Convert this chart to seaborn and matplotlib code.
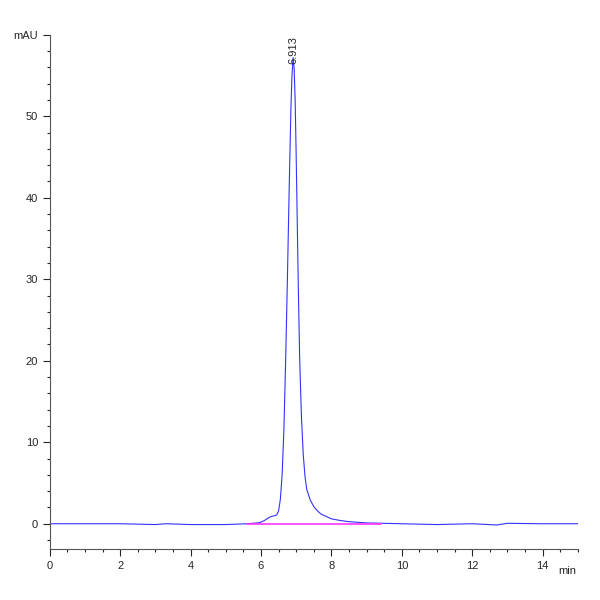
import matplotlib
matplotlib.use("Agg")
import matplotlib.pyplot as plt
import seaborn as sns
import pandas as pd
from matplotlib.ticker import MultipleLocator

time_min = [0, 1, 2, 3, 3.3, 4, 5, 5.6, 5.9, 6.0, 6.1, 6.2, 6.3, 6.4, 6.45, 6.5, 6.55,
            6.6, 6.65, 6.7, 6.75, 6.8, 6.85, 6.88, 6.913, 6.94, 6.97, 7.0, 7.03, 7.06,
            7.1, 7.15, 7.2, 7.25, 7.3, 7.4, 7.5, 7.6, 7.7, 7.85, 8.0, 8.25, 8.5, 9.0,
            10, 11, 12, 12.7, 13, 14, 15]
signal_mau = [0, 0, 0, -0.1, 0, -0.1, -0.1, 0, 0.1, 0.2, 0.4, 0.7, 0.9, 1.0, 1.1, 1.6, 3.0,
              6.0, 11.5, 20, 30, 41, 51, 55, 57.2, 56, 52, 45, 37, 29,
              20, 13, 8.5, 5.8, 4.2, 2.9, 2.1, 1.6, 1.2, 0.9, 0.6, 0.4, 0.25, 0.1,
              0, -0.1, 0, -0.15, 0.05, 0, 0]
baseline_t = [5.6, 9.4]
baseline_v = [0, 0]
peak_time = 6.913
peak_height = 57.2

sns.set_style("white")
plt.rcParams['font.family'] = ['Liberation Sans', 'DejaVu Sans']
fig = plt.figure(figsize=(6, 6), dpi=100)
ax = fig.add_axes([0.083, 0.085, 0.88, 0.857])
df = pd.DataFrame({"t": time_min, "v": signal_mau})
sns.lineplot(data=df, x="t", y="v", ax=ax, color="#3333ff", lw=0.8)
ax.plot(baseline_t, baseline_v, color="#ff33ff", lw=1.2)
ax.text(peak_time, peak_height - 0.8, f"{peak_time:.3f}", rotation=90, ha="center",
        va="bottom", fontsize=8)

ax.set_xlim(0, 15)
ax.set_ylim(-3.1, 60)
ax.xaxis.set_minor_locator(MultipleLocator(0.5))
ax.yaxis.set_minor_locator(MultipleLocator(2))
ax.set_xticks([0, 2, 4, 6, 8, 10, 12, 14])
ax.set_yticks([0, 10, 20, 30, 40, 50, 60])
ax.set_yticklabels(["0", "10", "20", "30", "40", "50", "mAU"])
ax.tick_params(which="major", length=5, width=0.8, labelsize=8, direction="out")
ax.tick_params(which="minor", length=2.5, width=0.8, direction="out")
ax.tick_params(left=True, bottom=True, which="both")
for s in ["top", "right"]:
    ax.spines[s].set_visible(False)
for s in ["left", "bottom"]:
    ax.spines[s].set_color("#555555")
    ax.spines[s].set_linewidth(0.8)
ax.set_xlabel("")
ax.set_ylabel("")
t = ax.text(14.95, -5.2, "min", fontsize=8, ha="right", va="top")
t.set_clip_on(False)
fig.savefig("out.png", dpi=100)
